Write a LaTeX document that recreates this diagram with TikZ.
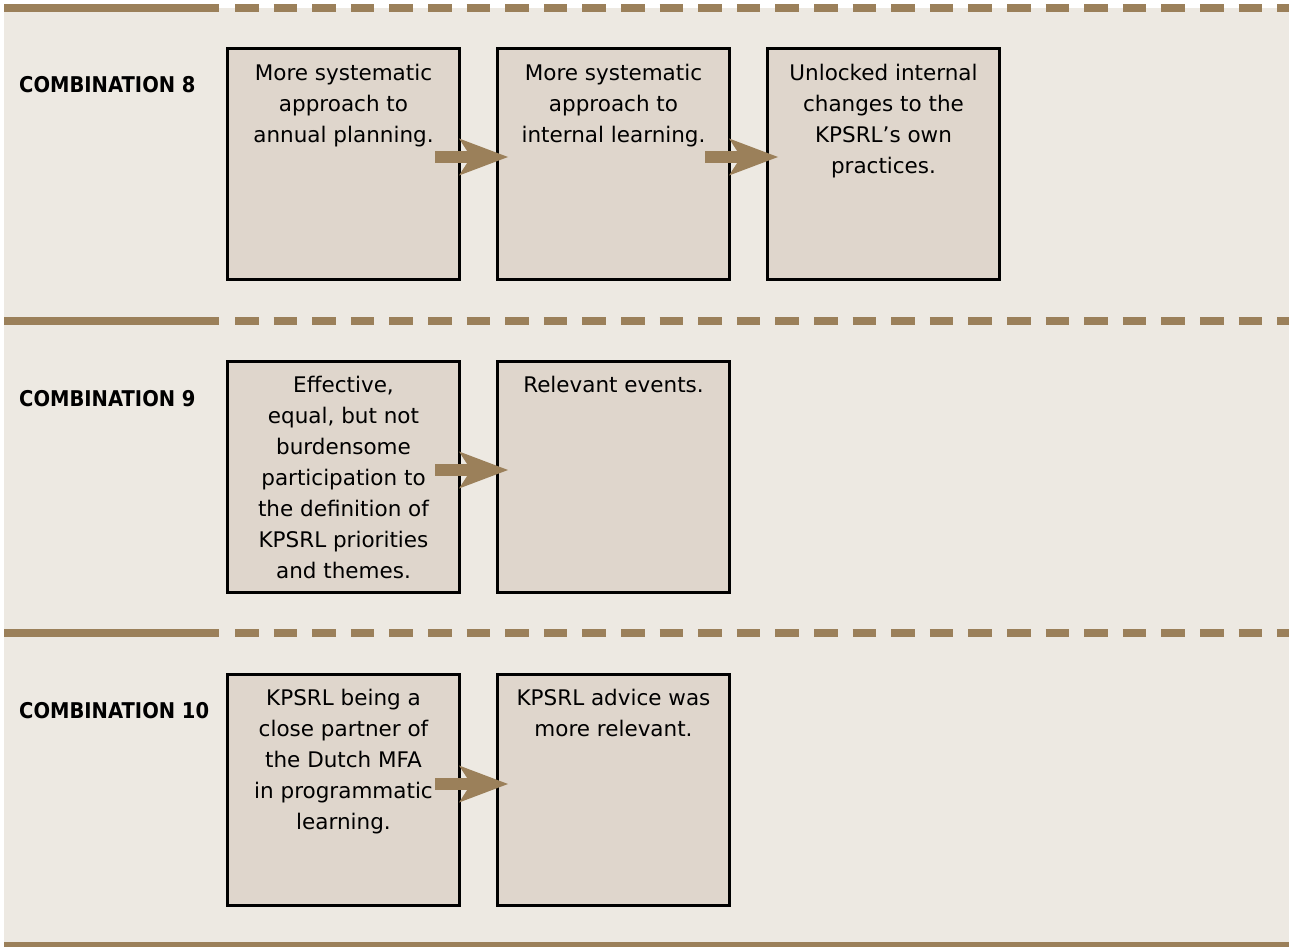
\documentclass[tikz,border=0pt]{standalone}
\usepackage{fontspec}
\setmainfont{DejaVu Sans}
\newfontfamily\labelfont{DejaVu Sans}[FakeStretch=0.9]
\usetikzlibrary{arrows.meta}

\definecolor{sand}{HTML}{9B805A}
\definecolor{boxfill}{HTML}{DFD6CC}
\definecolor{paper}{HTML}{EDE9E2}

\begin{document}
\begin{tikzpicture}[x=1pt, y=-1pt,
    rule/.style={draw=sand, line width=8pt},
    stepbox/.style={draw=black, fill=boxfill, line width=3pt,
        minimum width=232pt, minimum height=231pt, inner sep=0pt},
    boxtext/.style={anchor=north, inner sep=0pt, align=center,
        font=\fontsize{21.5}{31}\selectfont},
    combo/.style={anchor=west, inner sep=0pt,
        font=\labelfont\bfseries\fontsize{21.7}{26}\selectfont},
    flow/.style={draw=sand, line width=12pt,
        -{Stealth[length=49pt, width=37pt, inset=12pt, line width=0pt]}}]

        \useasboundingbox (0,0) rectangle (1294,947);
        \fill[paper] (4,8) rectangle (1289,946);

        % separators
        \foreach \y in {8,321,633} {
            \draw[rule] (4,\y) -- (219,\y);
            \draw[rule, dash pattern=on 23.6pt off 15pt] (235,\y) -- (1289,\y);
        }
        \draw[rule] (4,946) -- (1289,946);

        % combination 8
        \node[combo] (c8) at (19,85) {COMBINATION 8};
        \node[stepbox] (b81) at (343.5,164) {};
        \node[stepbox] (b82) at (613.5,164) {};
        \node[stepbox] (b83) at (883.5,164) {};
        \node[boxtext] (t81) at ([yshift=-17pt]b81.north) {More systematic\\approach to\\annual planning.};
        \node[boxtext] (t82) at ([yshift=-17pt]b82.north) {More systematic\\approach to\\internal learning.};
        \node[boxtext] (t83) at ([yshift=-17pt]b83.north) {Unlocked internal\\changes to the\\KPSRL’s own\\practices.};
        \draw[flow] ([xshift=-26pt, yshift=7pt]b81.east) -- ([xshift=12pt, yshift=7pt]b82.west);
        \draw[flow] ([xshift=-26pt, yshift=7pt]b82.east) -- ([xshift=12pt, yshift=7pt]b83.west);

        % combination 9
        \node[combo] (c9) at (19,399) {COMBINATION 9};
        \node[stepbox] (b91) at (343.5,477) {};
        \node[stepbox] (b92) at (613.5,477) {};
        \node[boxtext] (t91) at ([yshift=-16pt]b91.north) {Effective,\\equal, but not\\burdensome\\participation to\\the definition of\\KPSRL priorities\\and themes.};
        \node[boxtext] (t92) at ([yshift=-16pt]b92.north) {Relevant events.};
        \draw[flow] ([xshift=-26pt, yshift=7pt]b91.east) -- ([xshift=12pt, yshift=7pt]b92.west);

        % combination 10
        \node[combo] (c10) at (19,711) {COMBINATION 10};
        \node[stepbox] (b101) at (343.5,789.5) {};
        \node[stepbox] (b102) at (613.5,789.5) {};
        \node[boxtext] (t101) at ([yshift=-16pt]b101.north) {KPSRL being a\\close partner of\\the Dutch MFA\\in programmatic\\learning.};
        \node[boxtext] (t102) at ([yshift=-16pt]b102.north) {KPSRL advice was\\more relevant.};
        \draw[flow] ([xshift=-26pt, yshift=5.5pt]b101.east) -- ([xshift=12pt, yshift=5.5pt]b102.west);
\end{tikzpicture}
\end{document}
